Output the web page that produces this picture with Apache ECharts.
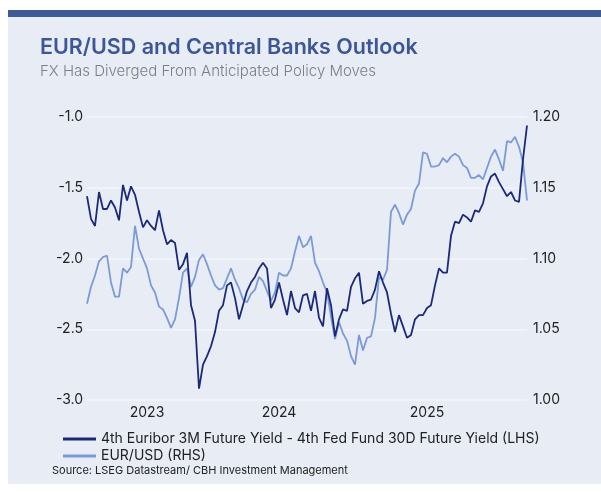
<!DOCTYPE html>
<html>
<head>
<meta charset="utf-8">
<script src="https://cdn.jsdelivr.net/npm/echarts@6/dist/echarts.min.js"></script>
<style>
  html, body { margin: 0; padding: 0; background: #fff; }
  #chart { width: 601px; height: 492px; }
</style>
</head>
<body>
<div id="chart"></div>
<script>
// spread between 4th Euribor 3M and 4th Fed Fund 30D future yields (LHS)
const spread = [
  -1.56, -1.72, -1.77, -1.53, -1.65, -1.65, -1.59, -1.64, -1.73, -1.48,
  -1.59, -1.49, -1.55, -1.67, -1.78, -1.73, -1.77, -1.80, -1.66, -1.80,
  -1.90, -1.87, -1.89, -2.08, -2.04, -1.96, -2.33, -2.44, -2.92, -2.75,
  -2.69, -2.62, -2.52, -2.37, -2.33, -2.19, -2.17, -2.28, -2.43, -2.33,
  -2.23, -2.17, -2.13, -2.07, -2.03, -2.07, -2.35, -2.29, -2.17, -2.29,
  -2.40, -2.23, -2.35, -2.38, -2.26, -2.25, -2.37, -2.23, -2.42, -2.48,
  -2.21, -2.33, -2.55, -2.43, -2.36, -2.37, -2.20, -2.14, -2.10, -2.32,
  -2.30, -2.29, -2.22, -2.09, -2.17, -2.24, -2.39, -2.52, -2.40, -2.48,
  -2.56, -2.54, -2.43, -2.40, -2.40, -2.35, -2.33, -2.19, -2.07, -2.10,
  -2.10, -1.84, -1.74, -1.75, -1.69, -1.71, -1.74, -1.66, -1.67, -1.61,
  -1.49, -1.42, -1.40, -1.46, -1.51, -1.56, -1.53, -1.59, -1.60, -1.30,
  -1.06
]

// EUR/USD (RHS)
const eurusd = [
  1.068, 1.080, 1.088, 1.098, 1.101, 1.102, 1.083, 1.073, 1.073, 1.093,
  1.090, 1.094, 1.123, 1.107, 1.100, 1.093, 1.081, 1.076, 1.066, 1.064,
  1.058, 1.051, 1.057, 1.072, 1.090, 1.093, 1.080, 1.087, 1.099, 1.103,
  1.096, 1.088, 1.081, 1.078, 1.079, 1.086, 1.093, 1.085, 1.079, 1.071,
  1.069, 1.075, 1.078, 1.087, 1.084, 1.077, 1.070, 1.076, 1.090, 1.088,
  1.088, 1.093, 1.105, 1.116, 1.108, 1.110, 1.116, 1.097, 1.091, 1.083,
  1.076, 1.059, 1.043, 1.055, 1.047, 1.042, 1.031, 1.025, 1.046, 1.035,
  1.044, 1.045, 1.058, 1.087, 1.085, 1.092, 1.133, 1.138, 1.132, 1.124,
  1.131, 1.135, 1.148, 1.153, 1.175, 1.174, 1.165, 1.165, 1.166, 1.171,
  1.168, 1.172, 1.174, 1.172, 1.166, 1.164, 1.157, 1.157, 1.159, 1.156,
  1.164, 1.172, 1.177, 1.170, 1.162, 1.183, 1.182, 1.186, 1.179, 1.168,
  1.141
]

// x-axis year labels and the observation they sit under
const yearLabels = ['2023', '2024', '2025']
const yearPos = [15, 48, 85]

const seriesNames = [
  '4th Euribor 3M Future Yield - 4th Fed Fund 30D Future Yield (LHS)',
  'EUR/USD (RHS)'
]

const FONT = 'Inter, "Noto Sans", sans-serif'
const bg = '#e8ecf5'

const chart = echarts.init(document.getElementById('chart'), null, { renderer: 'canvas' })

const option = {
  backgroundColor: '#ffffff',
  animation: false,
  textStyle: { fontFamily: FONT },
  graphic: [
    { type: 'rect', shape: { x: 8, y: 10, width: 593, height: 474 }, style: { fill: bg }, z: -10 },
    { type: 'rect', shape: { x: 8, y: 10, width: 593, height: 7 }, style: { fill: '#3d5a98' }, z: -9 },
    {
      type: 'text', left: 52, top: 465,
      style: { text: 'Source: LSEG Datastream/ CBH Investment Management', fill: '#222', font: '11px ' + FONT }
    }
  ],
  title: {
    text: 'EUR/USD and Central Banks Outlook',
    subtext: 'FX Has Diverged From Anticipated Policy Moves',
    left: 35,
    top: 32,
    itemGap: 5,
    textStyle: { fontFamily: FONT, fontSize: 21.5, fontWeight: 600, color: '#3b5797' },
    subtextStyle: { fontFamily: FONT, fontSize: 15, fontWeight: 300, color: '#7b7f88' }
  },
  legend: {
    orient: 'vertical',
    left: 58,
    top: 427,
    itemWidth: 33,
    itemHeight: 3,
    itemGap: 3,
    icon: 'rect',
    textStyle: { fontFamily: FONT, fontSize: 14, color: '#222' },
    data: seriesNames
  },
  grid: { left: 87, right: 74, top: 117, bottom: 92, containLabel: false },
  xAxis: {
    type: 'value',
    min: 0,
    max: spread.length - 1,
    axisLine: { show: false },
    axisTick: { show: false },
    splitLine: { show: false },
    axisLabel: {
      customValues: yearPos,
      formatter: (v) => yearLabels[yearPos.indexOf(v)] || '',
      color: '#222',
      fontSize: 14,
      margin: 6
    }
  },
  yAxis: [
    {
      type: 'value',
      min: -3,
      max: -1,
      interval: 0.5,
      axisLine: { show: false },
      axisTick: { show: false },
      splitLine: { lineStyle: { color: '#f4f6fb', width: 1.5 } },
      axisLabel: { formatter: (v) => v.toFixed(1), color: '#222', fontSize: 14, margin: 4 }
    },
    {
      type: 'value',
      min: 1.0,
      max: 1.2,
      interval: 0.05,
      axisLine: { show: false },
      axisTick: { show: false },
      splitLine: { show: false },
      axisLabel: { formatter: (v) => v.toFixed(2), color: '#222', fontSize: 14, margin: 6 }
    }
  ],
  series: [
    {
      name: seriesNames[1],
      type: 'line',
      yAxisIndex: 1,
      data: eurusd.map((v, i) => [i, v]),
      showSymbol: false,
      lineStyle: { color: '#7b9bd6', width: 1.8 },
      itemStyle: { color: '#7b9bd6' },
      z: 2
    },
    {
      name: seriesNames[0],
      type: 'line',
      yAxisIndex: 0,
      data: spread.map((v, i) => [i, v]),
      showSymbol: false,
      lineStyle: { color: '#1b2a78', width: 1.8 },
      itemStyle: { color: '#1b2a78' },
      z: 3
    }
  ]
}

chart.setOption(option)
</script>
</body>
</html>
